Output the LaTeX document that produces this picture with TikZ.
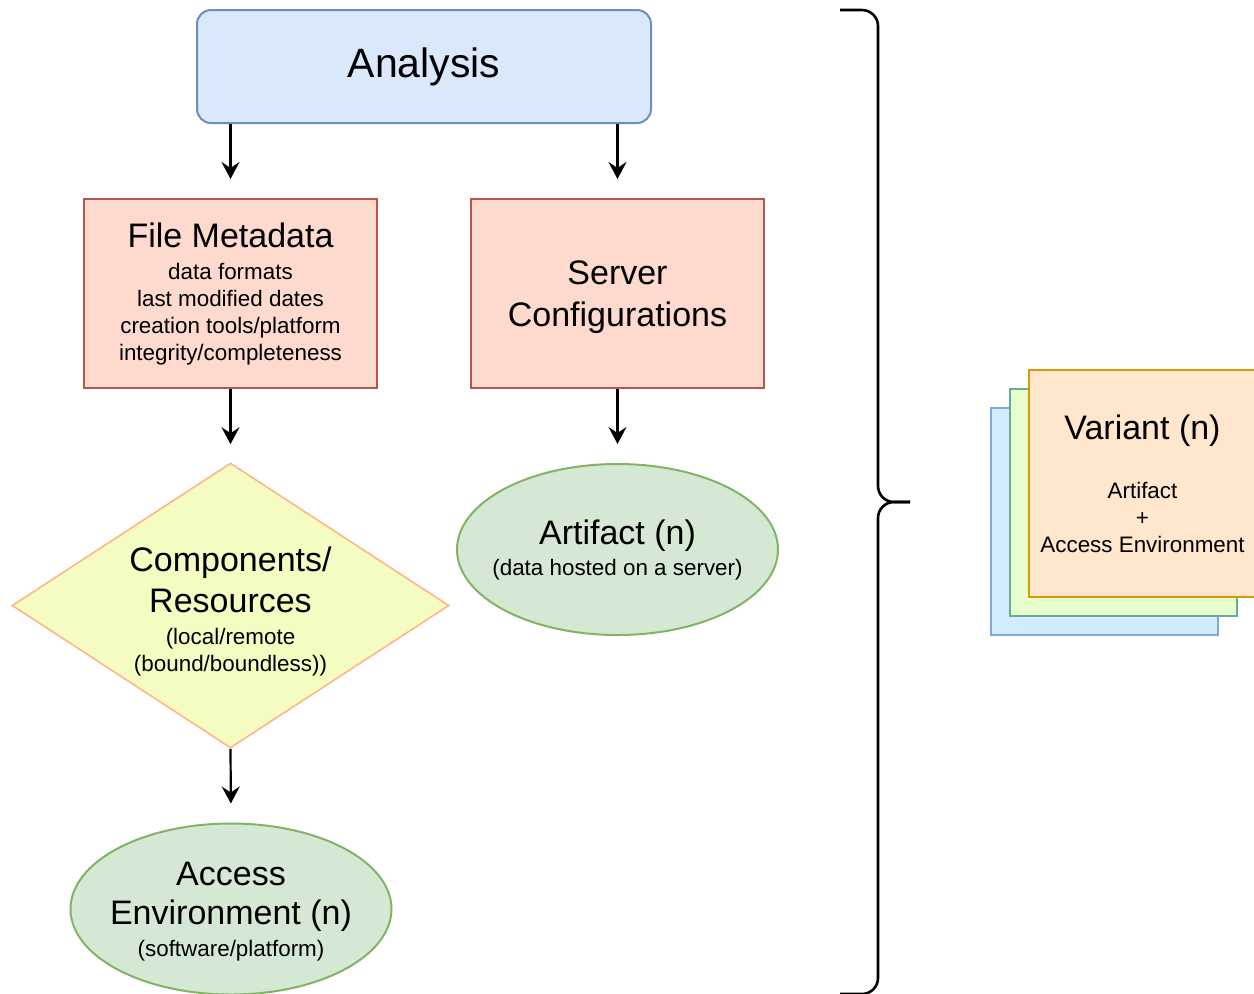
\documentclass[tikz,border=0pt]{standalone}
\usepackage{fontspec}
\setmainfont{Liberation Sans}
\usepackage{tikz}
\usetikzlibrary{
  arrows.meta,
  positioning,
  shapes.geometric
}
\definecolor{anafill}{HTML}{DAE8FC}
\definecolor{anadraw}{HTML}{6C8EBF}
\definecolor{infofill}{HTML}{FDDACD}
\definecolor{infodraw}{HTML}{B85450}
\definecolor{choicefill}{HTML}{F5FCC2}
\definecolor{choicedraw}{HTML}{FFB58A}
\definecolor{resfill}{HTML}{D5E8D4}
\definecolor{resdraw}{HTML}{82B366}
\definecolor{bluefill}{HTML}{D2EBFF}
\definecolor{bluedraw}{HTML}{7EA6E0}
\definecolor{greenfill}{HTML}{E6FFCC}
\definecolor{greendraw}{HTML}{67AB9F}
\definecolor{orangefill}{HTML}{FFE6CC}
\definecolor{orangedraw}{HTML}{D79B00}
\newcommand{\bigtxt}{\fontsize{17}{20}\selectfont}
\newcommand{\subtxt}{\fontsize{11.2}{13.5}\selectfont}
\tikzset{
  topbox/.style={
    rounded corners=7pt,
    draw=anadraw,
    fill=anafill,
    line width=1pt,
    minimum width=227pt,
    minimum height=56.5pt,
    font=\fontsize{20.5}{24}\selectfont
  },
  infobox/.style={
    draw=infodraw,
    fill=infofill,
    line width=1pt,
    minimum width=146.5pt,
    minimum height=94.5pt,
    align=center,
    inner sep=0pt,
    font=\subtxt
  },
  choice/.style={
    diamond,
    aspect=1.533,
    draw=choicedraw,
    fill=choicefill,
    line width=0.8pt,
    minimum width=218.5pt,
    minimum height=142.5pt,
    align=center,
    inner sep=0pt,
    font=\subtxt
  },
  result/.style={
    ellipse,
    draw=resdraw,
    fill=resfill,
    line width=1pt,
    minimum width=160.5pt,
    minimum height=85.5pt,
    align=center,
    inner xsep=-8pt,
    inner ysep=0pt,
    font=\subtxt
  },
  card/.style={
    draw=#1draw,
    fill=#1fill,
    line width=1.2pt,
    minimum width=113.5pt,
    minimum height=113.5pt,
    align=center,
    inner sep=0pt,
    font=\subtxt
  },
  arrow/.style={
    -{Stealth[length=8.5pt, width=9pt, inset=3pt]},
    line width=1.1pt,
    draw=black
  },
  brace/.style={
    line width=1.3pt,
    rounded corners=8pt
  }
}

\begin{document}
\begin{tikzpicture}[x=0.5pt, y=-0.5pt]
  \useasboundingbox (0,0) rectangle (1254,993);
  \clip (0,0) rectangle (1254,993);

  \node[topbox] (analysis) at (424,66.5) {Analysis};
  \node[infobox] (meta) at (230.5,293.5) {
    \bigtxt File Metadata\\[2.5pt]
    data formats\\
    last modified dates\\
    creation tools/platform\\
    integrity/completeness
  };
  \node[infobox, font=\fontsize{17}{21}\selectfont, text depth=0pt] (server) at (617.5,293.5) {
    Server\\Configurations
  };
  \node[choice] (comp) at (230.5,605.5) {
    \bigtxt\rule{0pt}{18.5pt}Components/\\[4pt]
    \bigtxt Resources\\[2.5pt]
    (local/remote\\
    (bound/boundless))
  };
  \node[result] (artifact) at (617.5,549.5) {
    \bigtxt Artifact (n)\\[2pt]
    (data hosted on a server)
  };
  \node[result, text depth=-2pt] (access) at (231,909) {
    \bigtxt Access\\[6pt]
    \bigtxt Environment (n)\\[2.5pt]
    (software/platform)
  };

  \draw[arrow, shorten >=9.5pt] (analysis.south -| meta.north) -- (meta.north);
  \draw[arrow, shorten >=9.5pt] (analysis.south -| server.north) -- (server.north);
  \draw[arrow, shorten >=9pt] (meta.south) -- (comp.north);
  \draw[arrow, shorten >=9.5pt] (server.south) -- (artifact.north);
  \draw[arrow, shorten >=9.5pt] (comp.south) -- (access.north);

  % brace
  \draw[brace] (840,10) -- (878,10) -- (878,502) -- (910,502);
  \draw[brace] (910,502) -- (878,502) -- (878,994) -- (840,994);

  % variant stack
  \node[card=blue] (varback) at (1104.5,521.5) {};
  \node[card=green] (varmid) at (1123.5,502.5) {};
  \node[card=orange] (variant) at (1142.5,483.5) {
    \bigtxt Variant (n)\\[16pt]
    Artifact\\
    +\\
    Access Environment
  };
\end{tikzpicture}
\end{document}
